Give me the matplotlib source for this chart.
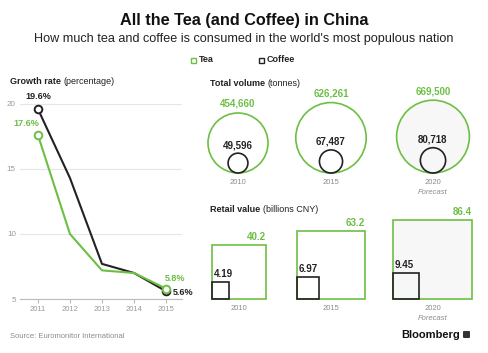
import matplotlib
matplotlib.use("Agg")
import matplotlib.pyplot as plt
import matplotlib.patches as patches
import numpy as np

plt.rcParams["font.family"] = ["Liberation Sans", "DejaVu Sans"]

# growth rate (percentage)
years = [2011, 2012, 2013, 2014, 2015]
tea_growth = [17.6, 10.0, 7.2, 7.0, 5.8]
coffee_growth = [19.6, 14.3, 7.7, 7.0, 5.6]

# total volume (tonnes) and retail value (billions CNY)
periods = ["2010", "2015", "2020"]
tea_volume = [454660, 626261, 669500]
coffee_volume = [49596, 67487, 80718]
tea_value = [40.2, 63.2, 86.4]
coffee_value = [4.19, 6.97, 9.45]
value_labels_tea = ["40.2", "63.2", "86.4"]
value_labels_coffee = ["4.19", "6.97", "9.45"]

GREEN = "#6cbf43"
DARK = "#222222"
GREY = "#8c8c8c"
W, H = 488, 353

fig = plt.figure(figsize=(W / 100, H / 100), dpi=100)

# ---- line chart ----
ax = fig.add_axes([20 / W, 1 - 299 / H, 162 / W, 203 / H])
ax.plot(years, coffee_growth, color=DARK, lw=1.5, zorder=3)
ax.plot(years, tea_growth, color=GREEN, lw=1.5, zorder=3)
for series, col in [(coffee_growth, DARK), (tea_growth, GREEN)]:
    ax.plot([years[0], years[-1]], [series[0], series[-1]], "o", ms=5.5,
            mfc="white", mec=col, mew=1.4, zorder=4)
ax.set_xlim(2010.44, 2015.5)
ax.set_ylim(5, 20.6)
ax.set_yticks([5, 10, 15, 20])
ax.set_xticks(years)
ax.grid(axis="y", color="#e6e6e6", lw=0.8)
ax.set_axisbelow(True)
for s in ["top", "right", "left"]:
    ax.spines[s].set_visible(False)
ax.spines["bottom"].set_color("#bbbbbb")
ax.spines["bottom"].set_linewidth(0.8)
ax.tick_params(axis="y", length=0, labelsize=5.8, labelcolor="#999999", pad=3)
ax.tick_params(axis="x", length=3, color="#bbbbbb", labelsize=5.5,
               labelcolor="#999999", pad=2)

ax.annotate("19.6%", (years[0], coffee_growth[0]), xytext=(0, 6),
            textcoords="offset points", ha="center", va="bottom",
            fontsize=6.5, fontweight="bold", color=DARK)
ax.annotate("17.6%", (years[0], tea_growth[0]), xytext=(1, 5),
            textcoords="offset points", ha="right", va="bottom",
            fontsize=6.5, fontweight="bold", color=GREEN)
ax.annotate("5.8%", (years[-1], tea_growth[-1]), xytext=(-1, 4),
            textcoords="offset points", ha="left", va="bottom",
            fontsize=6.5, fontweight="bold", color=GREEN)
ax.annotate("5.6%", (years[-1], coffee_growth[-1]), xytext=(5, -1),
            textcoords="offset points", ha="left", va="center",
            fontsize=6.5, fontweight="bold", color=DARK)

# ---- overlay in pixel coordinates ----
ov = fig.add_axes([0, 0, 1, 1], zorder=-1)
ov.set_xlim(0, W)
ov.set_ylim(H, 0)
ov.axis("off")

fig.text(244 / W, 1 - 20 / H, "All the Tea (and Coffee) in China",
         ha="center", va="center", fontsize=11.7, fontweight="bold", color="#111111")
fig.text(244 / W, 1 - 39 / H,
         "How much tea and coffee is consumed in the world's most populous nation",
         ha="center", va="center", fontsize=9.1, color="#222222")

# legend
for x0, label, col in [(193, "Tea", GREEN), (261, "Coffee", DARK)]:
    ov.add_patch(patches.Rectangle((x0 - 2.5, 57.5), 5, 5, fill=False,
                                   edgecolor=col, lw=1))
    ov.text(x0 + 6, 60, label, ha="left", va="center", fontsize=6.5,
            fontweight="bold", color=DARK)

# section headings
def heading(x, y, bold, rest):
    t = ov.text(x, y, bold, ha="left", va="center", fontsize=6.5,
                fontweight="bold", color=DARK)
    ov.annotate(rest, xycoords=t, xy=(1, 0.5), va="center", ha="left",
                fontsize=6.5, color=DARK, xytext=(2, 0),
                textcoords="offset points")

heading(10, 82, "Growth rate", "(percentage)")
heading(210, 83, "Total volume", "(tonnes)")
heading(210, 209, "Retail value", "(billions CNY)")

# circles (area proportional)
circle_x = [238, 331, 433]
base_y = 173
r0 = 30
for i, p in enumerate(periods):
    rt = r0 * np.sqrt(tea_volume[i] / tea_volume[0])
    rc = r0 * np.sqrt(coffee_volume[i] / tea_volume[0])
    face = "#f7f7f7" if p == "2020" else "white"
    ov.add_patch(patches.Circle((circle_x[i], base_y - rt), rt, facecolor=face,
                                edgecolor=GREEN, lw=1.2))
    ov.add_patch(patches.Circle((circle_x[i], base_y - rc), rc, facecolor="none",
                                edgecolor=DARK, lw=1.2))
    ov.text(circle_x[i], base_y - 2 * rt - 4, f"{tea_volume[i]:,}", ha="center",
            va="bottom", fontsize=7, fontweight="bold", color=GREEN)
    ov.text(circle_x[i], base_y - 2 * rc - 3, f"{coffee_volume[i]:,}", ha="center",
            va="bottom", fontsize=7, fontweight="bold", color=DARK)
    ov.text(circle_x[i], base_y + 10, p, ha="center", va="center",
            fontsize=5.5, color=GREY)
    if p == "2020":
        ov.text(circle_x[i], base_y + 20, "Forecast", ha="center", va="center",
                fontsize=5.5, color=GREY, style="italic")

# squares (area proportional)
square_x = [212, 297, 393]
sq_base = 299
s0 = 54
for i, p in enumerate(periods):
    st = s0 * np.sqrt(tea_value[i] / tea_value[0])
    sc = s0 * np.sqrt(coffee_value[i] / tea_value[0])
    face = "#f7f7f7" if p == "2020" else "white"
    ov.add_patch(patches.Rectangle((square_x[i], sq_base - st), st, st,
                                   facecolor=face, edgecolor=GREEN, lw=1.2))
    ov.add_patch(patches.Rectangle((square_x[i], sq_base - sc), sc, sc,
                                   facecolor="none", edgecolor=DARK, lw=1.2))
    ov.text(square_x[i] + st, sq_base - st - 3, value_labels_tea[i], ha="right",
            va="bottom", fontsize=7, fontweight="bold", color=GREEN)
    ov.text(square_x[i] + 2, sq_base - sc - 3, value_labels_coffee[i], ha="left",
            va="bottom", fontsize=7, fontweight="bold", color=DARK)
    ov.text(square_x[i] + st / 2, sq_base + 10, p, ha="center", va="center",
            fontsize=5.5, color=GREY)
    if p == "2020":
        ov.text(square_x[i] + st / 2, sq_base + 20, "Forecast", ha="center",
                va="center", fontsize=5.5, color=GREY, style="italic")

# footer
ov.text(10, 336, "Source: Euromonitor International", ha="left", va="center",
        fontsize=5.5, color=GREY)
ov.text(460, 335, "Bloomberg", ha="right", va="center", fontsize=8,
        fontweight="bold", color="#111111")
ov.add_patch(patches.FancyBboxPatch((463, 331), 7, 7,
                                    boxstyle="round,pad=0,rounding_size=1",
                                    facecolor="#333333", edgecolor="none"))

fig.savefig("out.png", dpi=100)
